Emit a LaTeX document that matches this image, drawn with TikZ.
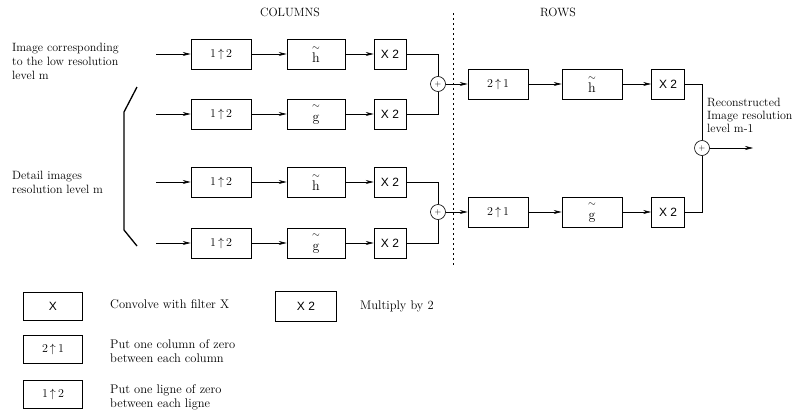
\documentclass[tikz,border=0pt]{standalone}
\usepackage{amsmath}
\usepackage{fontspec}
\newfontfamily\boxsans{Liberation Sans}
\usetikzlibrary{arrows.meta}
\newcommand\filtsym[1]{$\overset{\sim}{\vphantom{\mathrm{h}}\mathrm{#1}}$}
\begin{document}
\begin{tikzpicture}[x=1pt,y=-1pt,
  font=\fontsize{12}{14}\selectfont,
  box/.style={draw,line width=.6pt,minimum height=30pt,inner sep=0pt},
  filt/.style={box,font=\fontsize{14}{14}\selectfont},
  sum/.style={draw,circle,line width=.6pt,minimum size=15pt,inner sep=0pt,
    font=\fontsize{8}{8}\selectfont},
  flow/.style={line width=.6pt,-{Stealth[length=8pt,width=4pt]}},
  wire/.style={line width=.6pt},
  lbl/.style={align=left,anchor=west,inner sep=0pt},
  keytext/.style={lbl,font=\fontsize{12.5}{14}\selectfont},
  key/.style={box,minimum width=59pt,minimum height=28pt}]
 \useasboundingbox (0,0) rectangle (798,415);
 % titles
 \node (cols) at (290,12) {COLUMNS};
 \node (rows) at (558,12) {ROWS};
 \draw[wire,dash pattern=on 2pt off 3pt] (453,13) -- (453,265);
 % columns
 \foreach \n/\yp/\f in {1/54/h, 2/114/g, 3/182/h, 4/243/g} {
   \coordinate (in\n) at (156,\yp);
   \node[box,minimum width=60pt] (up\n) at (221,\yp) {$1\,{\uparrow}\,2$};
   \node[filt,minimum width=58pt] (f\n) at (316,\yp) {\filtsym{\f}};
   \node[box,minimum width=32pt] (m\n) at (390,\yp) {\boxsans X 2};
   \draw[flow] (in\n) -- (up\n);
   \draw[flow] (up\n) -- (f\n);
   \draw[flow] (f\n) -- (m\n);
 }
 \node[sum] (s1) at (438,84) {+};
 \node[sum] (s2) at (438,212) {+};
 \draw[wire] (m1) -| (s1);
 \draw[wire] (m2) -| (s1);
 \draw[wire] (m3) -| (s2);
 \draw[wire] (m4) -| (s2);
 % rows
 \foreach \n/\yp/\f in {a/84/h, b/212/g} {
   \node[box,minimum width=60pt] (r\n) at (498,\yp) {$2\,{\uparrow}\,1$};
   \node[filt,minimum width=60pt] (rf\n) at (592,\yp) {\filtsym{\f}};
   \node[box,minimum width=33pt] (rm\n) at (668,\yp) {\boxsans X 2};
   \draw[flow] (r\n) -- (rf\n);
   \draw[flow] (rf\n) -- (rm\n);
 }
 \draw[flow] (s1) -- (ra);
 \draw[flow] (s2) -- (rb);
 \node[sum] (s3) at (702,148) {+};
 \draw[wire] (rma) -| (s3);
 \draw[wire] (rmb) -| (s3);
 \coordinate (out) at (753,148);
 \draw[flow] (s3) -- (out);
 % inputs
 \draw[line width=1.3pt] (137,87) -- (124,112) -- (124,230) -- (137,246);
 \node[lbl,anchor=north west] (lowres) at (12,43)
   {Image corresponding\\to the low resolution\\level m};
 \node[lbl,anchor=north west] (detail) at (12,171)
   {Detail images\\resolution level m};
 \node[lbl,anchor=north west,font=\fontsize{12}{13}\selectfont] (recon) at (707,98)
   {Reconstructed\\Image resolution\\level m-1};
 % legend
 \node[key] (kx) at (53,306) {\boxsans X};
 \node[key] (kcol) at (53,349) {$2\,{\uparrow}\,1$};
 \node[key] (krow) at (53,394) {$1\,{\uparrow}\,2$};
 \node[key,minimum width=61pt,minimum height=30pt] (km) at (306,306) {\boxsans X 2};
 \node[keytext] (kxt) at (110,304) {Convolve with filter X};
 \node[keytext] (kcolt) at (110,351) {Put one column of zero\\between each column};
 \node[keytext] (krowt) at (110,397) {Put one ligne of zero\\between each ligne};
 \node[keytext] (kmt) at (360,306) {Multiply by 2};
\end{tikzpicture}
\end{document}
